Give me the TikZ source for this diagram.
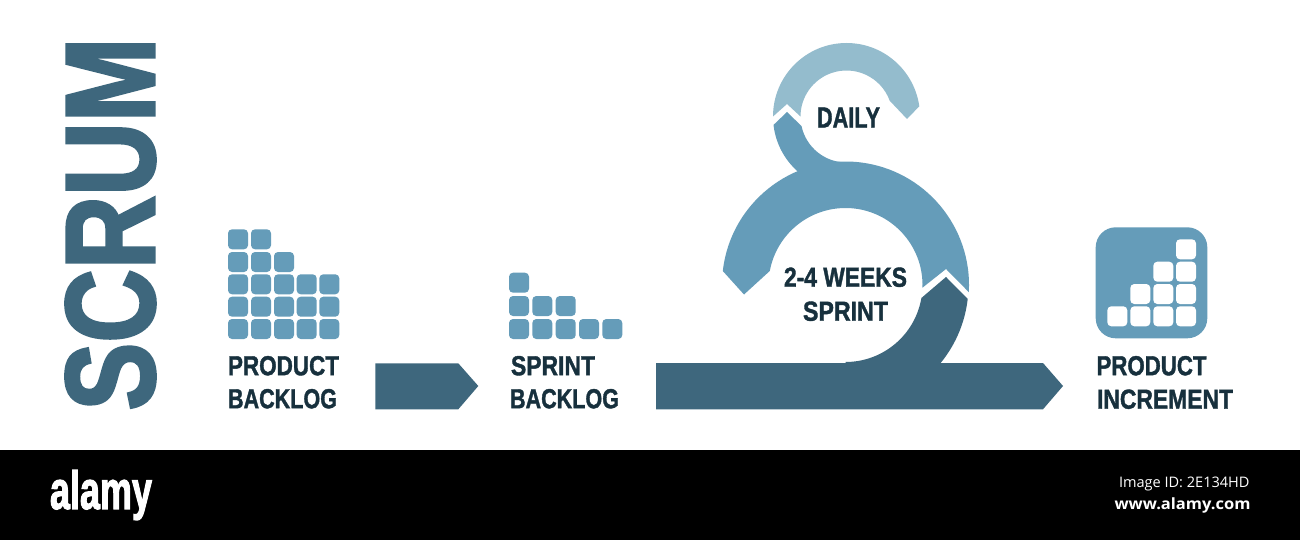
\documentclass[tikz,border=0pt]{standalone}
\usepackage{fontspec}
\usepackage{graphicx}
\setmainfont{Liberation Sans}
\newfontfamily\lblfont{Liberation Sans}[BoldFeatures={FakeBold=1.5}]
\newfontfamily\titlefont{Liberation Sans}[BoldFeatures={FakeBold=2.5}]
\newfontfamily\footfont{Open Sans}
\definecolor{scrumdark}{HTML}{3E677D}
\definecolor{scrummid}{HTML}{659CB9}
\definecolor{scrumlight}{HTML}{94BCCD}
\definecolor{scrumtext}{HTML}{17303D}
\newcommand{\fitted}[3]{\resizebox*{#1pt}{#2pt}{\lblfont\bfseries #3}}
\newcommand{\fittedtitle}[3]{\resizebox*{#1pt}{#2pt}{\titlefont\bfseries #3}}
\newcommand{\fittedfoot}[3]{\resizebox*{#1pt}{#2pt}{\footfont #3}}
\newcommand{\fittedfootb}[3]{\resizebox*{#1pt}{#2pt}{\footfont\bfseries #3}}
\tikzset{
  lbl/.style={inner sep=0pt,outer sep=0pt,anchor=north west,text=scrumtext},
  barlbl/.style={inner sep=0pt,outer sep=0pt,anchor=north west,text=white},
  tile/.style={rounded corners=4pt,fill=scrummid},
  whitetile/.style={rounded corners=4pt,fill=white},
}
\begin{document}
\begin{tikzpicture}[x=1pt,y=-1pt]
\useasboundingbox (0,0) rectangle (1300,540);
\fill[white] (0,0) rectangle (1300,540);
\fill[black] (0,450) rectangle (1300,540);
% title
\node[inner sep=0pt,rotate=90,text=scrumdark] (title) at (110.5,224) {\fittedtitle{373}{89.5}{SCRUM}};
% product backlog tiles
\foreach \r/\y/\n in {1/229.3/2,2/252/3,3/274.3/5,4/296.7/5,5/319/5}{
  \foreach \x [count=\i] in {228,251,274,296.7,319.3}{
    \ifnum\i>\n\else
      \fill[tile] (\x,\y) rectangle ++(20,20);
    \fi
  }
}
% sprint backlog tiles
\foreach \r/\y/\n in {1/272.7/1,2/296/3,3/319/5}{
  \foreach \x [count=\i] in {509,532.3,555.7,579,602.3}{
    \ifnum\i>\n\else
      \fill[tile] (\x,\y) rectangle ++(20,20);
    \fi
  }
}
% increment
\fill[scrummid,rounded corners=20pt] (1095.7,227.3) rectangle (1207.3,338.3);
\foreach \y/\n in {239.3/1,261.7/2,284/3,306.3/4}{
  \foreach \x [count=\i] in {1176,1153.3,1130.3,1107.3}{
    \ifnum\i>\n\else
      \fill[whitetile] (\x,\y) rectangle ++(20,20);
    \fi
  }
}
% arrows
\fill[scrumdark] (375.3,363.3) -- (458.3,363.3) -- (478.3,386) -- (458.3,409.3) -- (375.3,409.3) -- cycle;
\fill[scrumdark] (656,363) -- (1043,363) -- (1063,386) -- (1043,409.3) -- (656,409.3) -- cycle;
% big ring light part
\coordinate (bc) at (845.5,285);
\coordinate (sc) at (846.5,116.5);
\fill[scrummid] ([shift={(186.5:123.5)}]bc) arc[start angle=186.5,end angle=363.3,radius=123.5]
   -- (946,269) -- ([shift={(2:77)}]bc) arc[start angle=362,end angle=190.5,radius=77]
   -- (744,294.5) -- cycle;
% big ring dark part
\fill[scrumdark] (946,277) -- ([shift={(6.5:123)}]bc) arc[start angle=6.5,end angle=41,radius=123]
   -- (930,366) -- (845.5,366) -- ([shift={(90:77)}]bc) arc[start angle=90,end angle=9.7,radius=77] -- cycle;
% small ring, light part
\fill[scrumlight] ([shift={(180:73.5)}]sc) arc[start angle=180,end angle=352,radius=73.5]
   -- (907,119) -- ([shift={(340:46)}]sc) arc[start angle=340,end angle=180,radius=46]
   -- (787,104) -- cycle;
% small ring, mid part joining the big ring
\fill[scrummid] (787,112) -- ([shift={(173.4:73.5)}]sc) arc[start angle=173.4,end angle=132,radius=73.5]
   -- (846,172) -- ([shift={(90:46)}]sc) arc[start angle=90,end angle=168,radius=46] -- cycle;
% labels
\node[lbl] (pb1) at (228,356) {\fitted{111}{19.5}{PRODUCT}};
\node[lbl] (pb2) at (228,389) {\fitted{109}{19.5}{BACKLOG}};
\node[lbl] (sb1) at (511,356) {\fitted{84}{19.5}{SPRINT}};
\node[lbl] (sb2) at (510,389) {\fitted{109}{19.5}{BACKLOG}};
\node[lbl] (pi1) at (1096.5,356) {\fitted{110}{19.5}{PRODUCT}};
\node[lbl] (pi2) at (1097,389.5) {\fitted{136}{19.5}{INCREMENT}};
\node[lbl] (daily) at (817,107.5) {\fitted{63}{20}{DAILY}};
\node[lbl] (w24) at (784,267.5) {\fitted{123}{19.5}{2-4 WEEKS}};
\node[lbl] (spr) at (803,301.5) {\fitted{85}{19.5}{SPRINT}};
% footer
\node[barlbl] (alamy) at (50,470) {\fittedtitle{102}{50}{alamy}};
\node[barlbl] (imgid) at (1119,476.5) {\fittedfoot{130.5}{14}{Image ID: 2E134HD}};
\node[barlbl] (www) at (1114.5,498) {\fittedfootb{136}{15.5}{www.alamy.com}};
\end{tikzpicture}
\end{document}
